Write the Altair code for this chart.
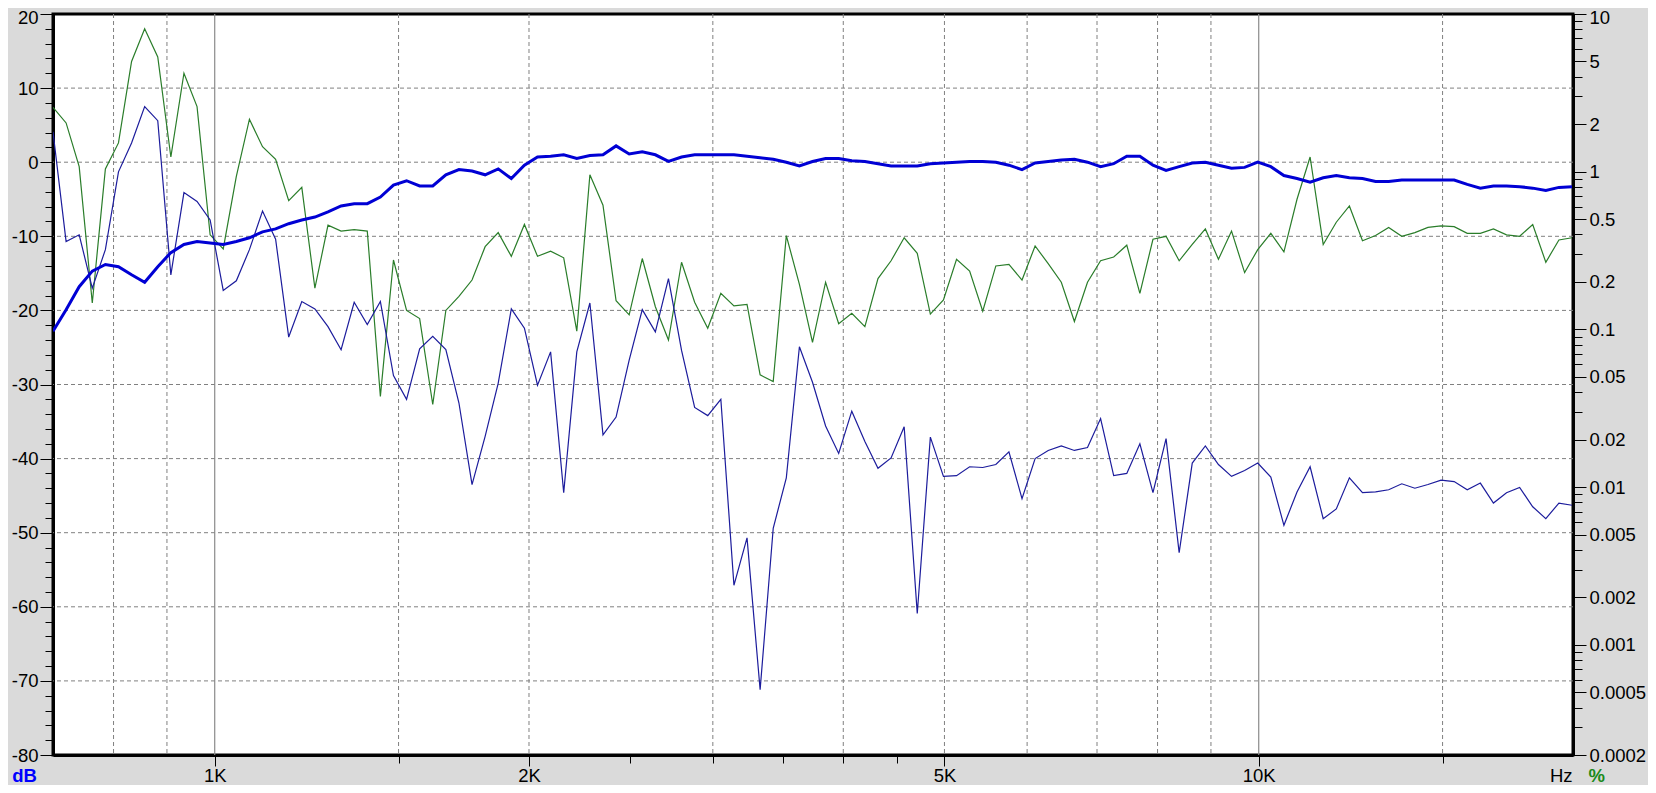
import altair as alt
import pandas as pd

# ---- measurement grid: 1/24-octave bands from 700 Hz to 20 kHz (117 points)
START_HZ = 700
BANDS_PER_OCTAVE = 24
N_BANDS = 117
freq_hz = [START_HZ * 2 ** (k / BANDS_PER_OCTAVE) for k in range(N_BANDS)]

# ---- series (dB)
response_db = [
    -22.8, -19.9, -16.8, -14.7, -13.8, -14.1, -15.2, -16.2, -14.1, -12.2,
    -11.1, -10.7, -10.9, -11.1, -10.7, -10.2, -9.4, -9.0, -8.3, -7.8,
    -7.4, -6.7, -5.9, -5.6, -5.6, -4.7, -3.1, -2.5, -3.2, -3.2,
    -1.7, -1.0, -1.2, -1.7, -0.9, -2.2, -0.4, 0.7, 0.8, 1.0,
    0.5, 0.9, 1.0, 2.2, 1.1, 1.4, 1.0, 0.1, 0.7, 1.0,
    1.0, 1.0, 1.0, 0.8, 0.6, 0.4, 0.0, -0.5, 0.1, 0.5,
    0.5, 0.2, 0.1, -0.2, -0.5, -0.5, -0.5, -0.2, -0.1, 0.0,
    0.1, 0.1, 0.0, -0.4, -1.0, -0.1, 0.1, 0.3, 0.4, 0.0,
    -0.6, -0.2, 0.8, 0.8, -0.4, -1.1, -0.6, -0.1, 0.0, -0.4,
    -0.8, -0.7, 0.0, -0.6, -1.8, -2.2, -2.7, -2.1, -1.8, -2.1,
    -2.2, -2.6, -2.6, -2.4, -2.4, -2.4, -2.4, -2.4, -3.0, -3.5,
    -3.2, -3.2, -3.3, -3.5, -3.8, -3.4, -3.3,
]

harmonic_db = [
    4.1, -10.7, -9.8, -17.0, -11.8, -1.3, 2.6, 7.5, 5.6, -15.2,
    -4.1, -5.3, -7.8, -17.3, -16.0, -11.8, -6.6, -10.4, -23.6, -18.8,
    -19.8, -22.2, -25.3, -18.9, -21.9, -18.8, -28.8, -32.0, -25.2, -23.5,
    -25.3, -32.5, -43.5, -37.0, -29.8, -19.8, -22.4, -30.1, -25.6, -44.6,
    -25.6, -19.0, -36.8, -34.4, -26.7, -19.9, -22.9, -15.7, -25.4, -33.1,
    -34.2, -32.0, -57.1, -50.7, -71.2, -49.4, -42.6, -24.9, -29.7, -35.6,
    -39.3, -33.6, -37.7, -41.3, -39.9, -35.7, -60.9, -37.1, -42.4, -42.3,
    -41.1, -41.2, -40.8, -39.1, -45.4, -40.0, -38.9, -38.3, -38.9, -38.5,
    -34.6, -42.3, -42.0, -38.0, -44.6, -37.3, -52.7, -40.6, -38.3, -40.8,
    -42.4, -41.6, -40.6, -42.5, -49.0, -44.5, -41.1, -48.1, -46.8, -42.6,
    -44.6, -44.5, -44.2, -43.4, -44.0, -43.5, -42.9, -43.1, -44.2, -43.3,
    -46.0, -44.6, -43.9, -46.5, -48.1, -46.0, -46.3,
]

thd_db = [
    7.4, 5.3, -0.6, -19.0, -0.9, 2.6, 13.6, 18.0, 14.2, 0.7,
    12.0, 7.5, -9.8, -11.7, -1.9, 5.8, 2.1, 0.4, -5.2, -3.4,
    -17.0, -8.5, -9.3, -9.1, -9.3, -31.6, -13.2, -20.0, -21.1, -32.7,
    -20.0, -18.1, -15.9, -11.4, -9.5, -12.7, -8.4, -12.7, -12.0, -12.9,
    -22.8, -1.7, -5.8, -18.7, -20.6, -13.0, -19.5, -24.0, -13.5, -18.9,
    -22.4, -17.7, -19.4, -19.2, -28.7, -29.6, -9.9, -16.5, -24.3, -16.2,
    -21.8, -20.4, -22.2, -15.7, -13.3, -10.2, -12.3, -20.5, -18.6, -13.1,
    -14.7, -20.1, -14.0, -13.8, -15.9, -11.3, -13.7, -16.2, -21.5, -16.2,
    -13.3, -12.8, -11.2, -17.7, -10.4, -10.0, -13.3, -11.1, -9.0, -13.1,
    -9.3, -14.9, -11.8, -9.6, -12.1, -5.0, 0.7, -11.1, -8.1, -5.9,
    -10.6, -9.9, -8.8, -10.0, -9.5, -8.8, -8.6, -8.7, -9.6, -9.6,
    -9.0, -9.8, -10.0, -8.4, -13.5, -10.5, -10.2,
]

# ---- axes, ticks and grid
x_minor_ticks = [1500, 2500, 3000, 3500, 4000, 4500, 15000]
x_major_ticks = [1000, 2000, 5000, 10000]
x_major_labels = ["1K", "2K", "5K", "10K"]
grid_dashed_hz = [800, 900, 1500, 2000, 3000, 4000, 5000, 6000, 7000, 8000, 9000, 15000]
grid_solid_hz = [1000, 10000]
db_ticks = list(range(-80, 21, 2))
grid_db = list(range(-70, 20, 10))
pct_major = [10, 5, 2, 1, 0.5, 0.2, 0.1, 0.05, 0.02, 0.01, 0.005, 0.002, 0.001, 0.0005, 0.0002]
pct_minor = [round(m * 10 ** e, 6) for e in range(-4, 1) for m in (3, 4, 6, 7, 8, 9)] + [9, 8, 7, 6, 4, 3]
pct_ticks = sorted(set(pct_major + [v for v in pct_minor if 0.0002 <= v <= 10]))

FONT = "Liberation Sans"
FS = 18.5
W, H = 1520, 741
BOTTOM_TEXT_BASELINE = 781  # page px of the corner texts

df = pd.DataFrame({"freq": freq_hz, "fr": response_db, "h": harmonic_db, "g": thd_db})

x_scale = alt.Scale(type="log", domain=[700, 20000], nice=False)
y_scale = alt.Scale(domain=[-80, 20], nice=False, zero=False)
pct_scale = alt.Scale(type="log", domain=[0.0002, 10], nice=False)

x_label_expr = " : ".join(
    f"datum.value == {k} ? '{v}'" for k, v in zip(x_major_ticks, x_major_labels)
) + " : ''"

x_axis_minor = alt.Axis(
    orient="bottom", values=x_minor_ticks, tickSize=8, labels=False, title=None, domain=False,
)
x_axis_major = alt.Axis(
    orient="bottom",
    values=x_major_ticks,
    labelExpr=x_label_expr,
    tickSize=11,
    labelPadding=0,
    labelBaseline="top",
    title="Hz",
    titleAngle=0,
    titleAlign="right",
    titleBaseline="alphabetic",
    titleX=W - 1,
    titleY=BOTTOM_TEXT_BASELINE - (14 + H),
    titleFontWeight="normal",
    titleColor="black",
)

y_axis = alt.Axis(
    orient="left",
    values=db_ticks,
    labelExpr="datum.value % 10 == 0 ? '' + datum.value : ''",
    tickSize={"condition": {"test": "datum.value % 10 == 0", "value": 13}, "value": 8},
    labelOffset={"condition": {"test": "datum.value == 20", "value": 3}, "value": 0},
    labelPadding=2,
    title="dB",
    titleAngle=0,
    titleAlign="center",
    titleBaseline="alphabetic",
    titleX=-29,
    titleY=BOTTOM_TEXT_BASELINE - 14,
    titleColor="#0000ff",
    titleFontWeight="bold",
)

pct_major_js = "[" + ",".join(repr(v) for v in pct_major) + "]"
pct_axis = alt.Axis(
    orient="right",
    values=pct_ticks,
    labelExpr=f"indexof({pct_major_js}, datum.value) >= 0 ? format(datum.value, '~g') : ''",
    tickSize={"condition": {"test": f"indexof({pct_major_js}, datum.value) >= 0", "value": 13}, "value": 9},
    labelOffset={"condition": {"test": "datum.value == 10", "value": 3}, "value": 0},
    labelPadding=3,
    labelAlign="left",
    title="%",
    titleAngle=0,
    titleAlign="left",
    titleBaseline="alphabetic",
    titleX=15,
    titleY=BOTTOM_TEXT_BASELINE - 14,
    titleColor="#1a8a1a",
    titleFontWeight="bold",
)

grid_h = alt.Chart(pd.DataFrame({"db": grid_db})).mark_rule(
    color="#808080", strokeWidth=1, strokeDash=[4, 3]
).encode(y=alt.Y("db:Q", scale=y_scale, axis=y_axis))

grid_v_dash = alt.Chart(pd.DataFrame({"hz": grid_dashed_hz})).mark_rule(
    color="#808080", strokeWidth=1, strokeDash=[4, 3]
).encode(x=alt.X("hz:Q", scale=x_scale, axis=x_axis_minor))

grid_v_solid = alt.Chart(pd.DataFrame({"hz": grid_solid_hz})).mark_rule(
    color="#8a8a8a", strokeWidth=1.2
).encode(x=alt.X("hz:Q", scale=x_scale, axis=None))

base = alt.Chart(df)
line_g = base.mark_line(color="#2a7d2a", strokeWidth=1.2, clip=True).encode(
    x=alt.X("freq:Q", scale=x_scale, axis=None),
    y=alt.Y("g:Q", scale=y_scale, axis=None),
)
line_h = base.mark_line(color="#1c1c9c", strokeWidth=1.2, clip=True).encode(
    x=alt.X("freq:Q", scale=x_scale, axis=None),
    y=alt.Y("h:Q", scale=y_scale, axis=None),
)
line_fr = base.mark_line(color="#0000d4", strokeWidth=3, clip=True).encode(
    x=alt.X("freq:Q", scale=x_scale, axis=x_axis_major),
    y=alt.Y("fr:Q", scale=y_scale, axis=None),
)

right = alt.Chart(pd.DataFrame({"pct": pct_major})).mark_point(opacity=0).encode(
    y=alt.Y("pct:Q", scale=pct_scale, axis=pct_axis)
)

chart = (
    alt.layer(grid_h, grid_v_dash, grid_v_solid, line_g, line_h, line_fr, right)
    .resolve_scale(y="independent")
    .resolve_axis(x="independent")
    .properties(
        width=W,
        height=H,
        background="#dadada",
        padding={"left": 45, "top": 6, "right": 75, "bottom": 30},
        autosize=alt.AutoSizeParams(type="none"),
    )
    .configure_view(stroke="black", strokeWidth=3, fill="white")
    .configure_axis(
        grid=False,
        labelFont=FONT,
        labelFontSize=FS,
        labelColor="black",
        titleFont=FONT,
        titleFontSize=FS,
        tickColor="black",
        tickWidth=1,
        domainColor="black",
        domainWidth=3,
        labelFlush=False,
        labelOverlap=False,
    )
)

chart.save("out.html", embed_options={"renderer": "svg", "actions": False})
